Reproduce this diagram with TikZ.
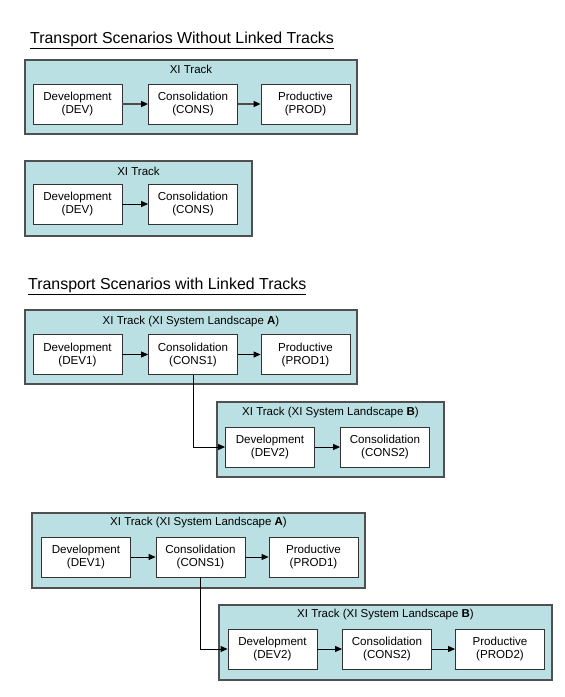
\documentclass[tikz,border=0pt]{standalone}
\usepackage{fontspec}
\setmainfont{Liberation Sans}
\usetikzlibrary{arrows.meta}
\begin{document}
\begin{tikzpicture}[x=1pt, y=-1pt,
  track/.style = {draw = trackline, fill = trackfill, line width = 1.2pt, inner sep = 0pt},
  tracklabel/.style = {font = \fontsize{11.5}{13}\selectfont},
  stage/.style = {draw = black!80, fill = white, line width = 0.8pt, align = center,
    minimum width = 89pt, minimum height = 40pt, inner sep = 0pt,
    font = \fontsize{11.6}{13}\selectfont},
  link/.style = {-{Triangle[length = 7pt, width = 6pt, color = black]}, line width = 0.8pt},
  heading/.style = {anchor = base west, inner sep = 0pt, font = \fontsize{15.9}{18}\selectfont}]
\definecolor{trackfill}{HTML}{BBE0E3}
\definecolor{trackline}{HTML}{505050}
\useasboundingbox (0, 0) rectangle (565, 697);
% without linked tracks
\node[heading] (head1) at (30, 43) {\underline{Transport Scenarios Without Linked Tracks}};
\node[track, minimum width = 332pt, minimum height = 74pt] (track1) at (191, 97) {};
\node[tracklabel] (track1label) at (191, 69) {XI Track};
\node[stage] (dev) at (77.5, 104) {Development\\(DEV)};
\node[stage] (cons) at (193, 104) {Consolidation\\(CONS)};
\node[stage] (prod) at (305.5, 104) {Productive\\(PROD)};
\draw[link, draw = black!70, line width = 1.6pt] (dev) -- (cons);
\draw[link, draw = black!70, line width = 1.6pt] (cons) -- (prod);
\node[track, minimum width = 227pt, minimum height = 75pt] (track2) at (138.5, 198.5) {};
\node[tracklabel] (track2label) at (138.5, 171) {XI Track};
\node[stage] (devb) at (77.5, 204) {Development\\(DEV)};
\node[stage] (consb) at (193, 204) {Consolidation\\(CONS)};
\draw[link] (devb) -- (consb);
% with linked tracks
\node[heading] (head2) at (28, 289) {\underline{Transport Scenarios with Linked Tracks}};
\node[track, minimum width = 332pt, minimum height = 74pt] (trackA) at (191, 347) {};
\node[tracklabel] (trackAlabel) at (191, 322) {XI Track (XI System Landscape \textbf{A})};
\node[stage] (devA) at (77.5, 354.5) {Development\\(DEV1)};
\node[stage] (consA) at (193, 354.5) {Consolidation\\(CONS1)};
\node[stage] (prodA) at (305.5, 354.5) {Productive\\(PROD1)};
\draw[link] (devA) -- (consA);
\draw[link] (consA) -- (prodA);
\node[track, minimum width = 227pt, minimum height = 75pt] (trackB) at (330.5, 439.5) {};
\node[tracklabel] (trackBlabel) at (330.5, 413) {XI Track (XI System Landscape \textbf{B})};
\node[stage] (devB) at (270, 447) {Development\\(DEV2)};
\node[stage] (consB) at (385, 447) {Consolidation\\(CONS2)};
\draw[link] (devB) -- (consB);
\draw[link] (consA.south) |- (devB.west);
% second linked pair
\node[track, minimum width = 333pt, minimum height = 75pt] (trackC) at (198.5, 550.5) {};
\node[tracklabel] (trackClabel) at (198.5, 523) {XI Track (XI System Landscape \textbf{A})};
\node[stage] (devC) at (86, 557) {Development\\(DEV1)};
\node[stage] (consC) at (200.5, 557) {Consolidation\\(CONS1)};
\node[stage] (prodC) at (313.5, 557) {Productive\\(PROD1)};
\draw[link] (devC) -- (consC);
\draw[link] (consC) -- (prodC);
\node[track, minimum width = 333pt, minimum height = 75pt] (trackD) at (385.5, 642.5) {};
\node[tracklabel] (trackDlabel) at (385.5, 615) {XI Track (XI System Landscape \textbf{B})};
\node[stage] (devD) at (272.5, 649) {Development\\(DEV2)};
\node[stage] (consD) at (387, 649) {Consolidation\\(CONS2)};
\node[stage] (prodD) at (500, 649) {Productive\\(PROD2)};
\draw[link] (devD) -- (consD);
\draw[link] (consD) -- (prodD);
\draw[link] (consC.south) |- (devD.west);
\end{tikzpicture}
\end{document}
